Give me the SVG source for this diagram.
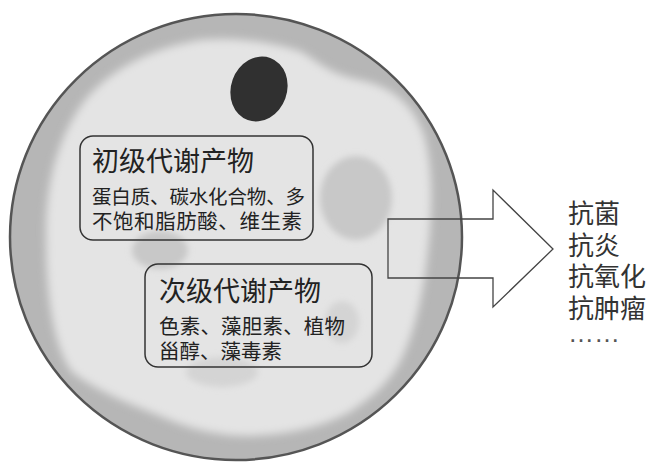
<svg xmlns="http://www.w3.org/2000/svg" width="653" height="465" viewBox="0 0 653 465">
  <defs>
    <filter id="soft" x="-20%" y="-20%" width="140%" height="140%">
      <feGaussianBlur stdDeviation="4"/>
    </filter>
    <filter id="softer" x="-30%" y="-30%" width="160%" height="160%">
      <feGaussianBlur stdDeviation="3"/>
    </filter>
    <clipPath id="cellClip">
      <ellipse cx="236" cy="237" rx="225" ry="222"/>
    </clipPath>
  </defs>
  <style>
    .cjk { font-family: "Noto Sans CJK SC", "Noto Sans CJK TC", sans-serif; fill: #222; }
    .box { fill: none; stroke: #333; stroke-width: 1.5; }
    .blob { fill: #c8c8c8; filter: url(#softer); }
    .blob.faint { fill: #d4d4d4; }
    .effect { font-size: 26px; fill: #333; }
  </style>

  <rect width="653" height="465" fill="#ffffff"/>

  <!-- cell body: darker rim, light cytoplasm, organelle shading -->
  <g id="cell">
    <ellipse cx="236" cy="237" rx="226" ry="223" fill="#b6b6b6"/>
    <g clip-path="url(#cellClip)">
      <path filter="url(#soft)" fill="#e4e4e4"
            d="M46,240 C45,190 55,140 85,100 C110,70 150,48 200,40 C240,36 280,44 302,52
               C318,62 330,74 360,80 C390,86 412,102 424,135 C434,170 432,215 428,250
               C424,290 416,330 400,362 C385,388 370,398 350,412 C320,428 290,434 250,436
               C210,436 180,425 155,414 C125,402 95,390 72,372 C55,350 46,300 46,240 Z"/>
      <ellipse class="blob" cx="356" cy="198" rx="36" ry="42"/>
      <ellipse class="blob" cx="160" cy="250" rx="28" ry="19"/>
      <ellipse class="blob faint" cx="342" cy="322" rx="17" ry="21"/>
      <ellipse class="blob faint" cx="222" cy="372" rx="36" ry="15"/>
    </g>
    <ellipse cx="236" cy="237" rx="226" ry="223" fill="none" stroke="#555" stroke-width="2.5"/>
  </g>

  <g id="nucleus">
    <ellipse cx="259" cy="89" rx="28" ry="33" transform="rotate(20 259 89)" fill="#303030"/>
  </g>

  <g id="primary-metabolites">
    <rect class="box" x="80" y="136" width="233" height="104" rx="13"/>
    <text class="cjk" x="92" y="171" font-size="27">初级代谢产物</text>
    <text class="cjk" x="92" y="203.5" font-size="19.5" textLength="213">蛋白质、碳水化合物、多</text>
    <text class="cjk" x="92" y="228.5" font-size="20.5" textLength="210">不饱和脂肪酸、维生素</text>
  </g>

  <g id="secondary-metabolites">
    <rect class="box" x="145" y="264" width="227" height="103" rx="13"/>
    <text class="cjk" x="159" y="301" font-size="27">次级代谢产物</text>
    <text class="cjk" x="159" y="333.5" font-size="20.5" textLength="186">色素、藻胆素、植物</text>
    <text class="cjk" x="159" y="358.5" font-size="20.5">甾醇、藻毒素</text>
  </g>

  <!-- outlined block arrow from the cell to the list of effects -->
  <g id="connectors">
    <path d="M388,219 H493 V190 L553,249 L493,307 V278 H388 Z" fill="none" stroke="#444" stroke-width="1.3" stroke-linejoin="miter"/>
  </g>

  <g id="effects">
    <text class="cjk effect" x="568" y="223">抗菌</text>
    <text class="cjk effect" x="568" y="255">抗炎</text>
    <text class="cjk effect" x="568" y="286">抗氧化</text>
    <text class="cjk effect" x="568" y="318">抗肿瘤</text>
    <text x="568" y="342" font-family="Liberation Sans, sans-serif" font-size="26" fill="#555">……</text>
  </g>
</svg>
